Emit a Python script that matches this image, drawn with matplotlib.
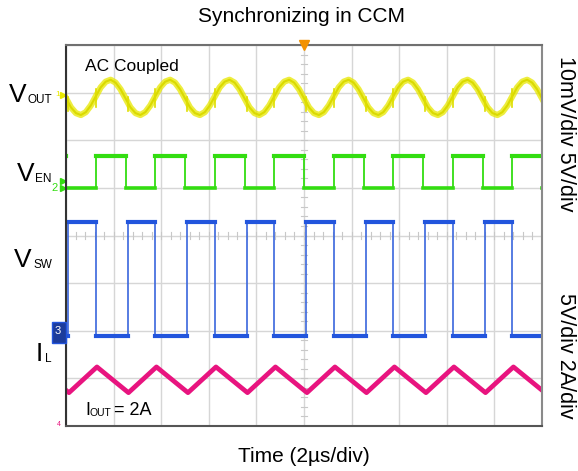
import matplotlib.pyplot as plt
import numpy as np
from matplotlib.patches import Rectangle

plt.rcParams['font.family'] = ['Liberation Sans', 'DejaVu Sans']

# scope screen: 10 x 8 divisions, 2us/div
t_div = 2.0
period = 2.5            # us (400 kHz sync)

# one switching period, phase = fraction of period, levels in divisions
vout_phase = [0.0, 0.083, 0.167, 0.25, 0.333, 0.417, 0.5, 0.583, 0.667, 0.75, 0.833, 0.917]
vout_dev = [-0.02, -0.21, -0.33, -0.37, -0.31, -0.17, 0.02, 0.21, 0.33, 0.37, 0.31, 0.17]
vout_center = 6.9

en_edges = [0.50, 1.00]          # rise, fall
en_low, en_high = 4.99, 5.67

sw_edges = [0.04, 0.50]          # rise, fall
sw_low, sw_high = 1.88, 4.28

il_phase = [0.05, 0.52]          # trough, peak
il_low, il_high = 0.70, 1.24

spike_phase = [0.04, 0.50]
spike_lo = [-0.18, -0.22]
spike_hi = [0.12, 0.16]

# channel labels: main letter, subscript, baseline (px from top)
ch_main = ['V', 'V', 'V', 'I']
ch_sub = ['OUT', 'EN', 'SW', 'L']
ch_base = [102, 181, 267, 361]

periods = np.arange(-1, 9)

t_vout, y_vout = [], []
t_en, y_en = [], []
t_sw, y_sw = [], []
t_il, y_il = [], []
for k in periods:
    for p, d in zip(vout_phase, vout_dev):
        t_vout.append((k + p) * period)
        y_vout.append(vout_center + d)
    r, f = (k + en_edges[0]) * period, (k + en_edges[1]) * period
    t_en += [r, r, f, f]
    y_en += [en_low, en_high, en_high, en_low]
    r, f = (k + sw_edges[0]) * period, (k + sw_edges[1]) * period
    t_sw += [r, r, f, f]
    y_sw += [sw_low, sw_high, sw_high, sw_low]
    t_il += [(k + il_phase[0]) * period, (k + il_phase[1]) * period]
    y_il += [il_low, il_high]

W, H = 578, 471
fig = plt.figure(figsize=(W / 100, H / 100), dpi=100)
ax = fig.add_axes([66 / W, 1 - 426 / H, 476 / W, 381 / H])
ax.set_xlim(0, 10 * t_div)
ax.set_ylim(0, 8)
ax.set_xticks(np.arange(0, 10 * t_div + 0.1, t_div))
ax.set_yticks(np.arange(0, 9, 1))
ax.set_axisbelow(True)
ax.grid(True, color='#d6d6d6', lw=1)
ax.tick_params(length=0, labelbottom=False, labelleft=False)
for side, c in [('left', '#333333'), ('bottom', '#555555'), ('top', '#707070'), ('right', '#8a8a8a')]:
    ax.spines[side].set_color(c)
    ax.spines[side].set_linewidth(1.5)

# minor ticks on the centre lines
for x in np.arange(0, 20.01, 0.4):
    ax.plot([x, x], [3.93, 4.07], color='#c8c8c8', lw=0.8, zorder=1)
for y in np.arange(0, 8.01, 0.2):
    ax.plot([9.88, 10.12], [y, y], color='#c8c8c8', lw=0.8, zorder=1)

# traces
ax.plot(t_vout, y_vout, color='#e8e800', lw=4.5, alpha=0.75, solid_joinstyle='round')
ax.plot(t_vout, y_vout, color='#dada00', lw=1.5)
for k in periods:
    for p, lo, hi in zip(spike_phase, spike_lo, spike_hi):
        tt = (k + p) * period
        yc = np.interp(tt, t_vout, y_vout)
        ax.plot([tt, tt], [yc + lo, yc + hi], color='#dede00', lw=1.2)

ax.plot(t_en, y_en, color='#33dd11', lw=1.3)
for k in periods:
    r, f = (k + en_edges[0]) * period, (k + en_edges[1]) * period
    ax.plot([r, f], [en_high, en_high], color='#33dd11', lw=3)
    ax.plot([f, r + period], [en_low, en_low], color='#33dd11', lw=2.6)

ax.plot(t_sw, y_sw, color='#3a66dd', lw=1.2)
for k in periods:
    r, f = (k + sw_edges[0]) * period, (k + sw_edges[1]) * period
    ax.plot([r, f], [sw_high, sw_high], color='#2255dd', lw=3)
    ax.plot([f, r + period], [sw_low, sw_low], color='#2255dd', lw=3)

ax.plot(t_il, y_il, color='#e8147f', lw=3.4)

# trigger marker and channel ground markers
ax.plot(10, 8, marker='v', ms=7, color='#f39200', clip_on=False, zorder=5)
ax.plot(-0.12, 6.95, marker='>', ms=5, color='#e8e800', clip_on=False)
ax.plot(-0.12, 5.15, marker='>', ms=5, color='#33dd11', clip_on=False)
ax.plot(-0.12, 4.99, marker='>', ms=5, color='#33dd11', clip_on=False)
fig.text(58 / W, 1 - 95 / H, '1', color='#e8e800', fontsize=6, ha='center', va='center')
fig.text(55 / W, 1 - 188 / H, '2', color='#33dd11', fontsize=8, ha='center', va='center')
fig.patches.append(Rectangle((52 / W, 1 - 343 / H), 14 / W, 21 / H,
                             transform=fig.transFigure, facecolor='#1c3c9c', edgecolor='#2255dd'))
fig.text(58 / W, 1 - 331 / H, '3', color='white', fontsize=8, ha='center', va='center')
fig.text(59 / W, 1 - 424 / H, '4', color='#e8147f', fontsize=5, ha='center', va='center')

# texts
fig.text(302 / W, 1 - 17 / H, 'Synchronizing in CCM', fontsize=15, ha='center', va='center')
fig.text(304 / W, 1 - 456 / H, 'Time (2µs/div)', fontsize=15, ha='center', va='center')
fig.text(85 / W, 1 - 71 / H, 'AC Coupled', fontsize=12.5, va='baseline')
fig.text(85 / W, 1 - 415 / H, 'I', fontsize=13, va='baseline')
fig.text(89 / W, 1 - 416 / H, 'OUT', fontsize=7.5, va='baseline')
fig.text(114 / W, 1 - 415 / H, '= 2A', fontsize=13, va='baseline')

for m, s, b in zip(ch_main, ch_sub, ch_base):
    fig.text(52 / W, 1 - (b + 1) / H, s, fontsize=8.5, ha='right', va='baseline')
    sub_w = {'OUT': 22, 'EN': 14, 'SW': 17, 'L': 6}[s]
    fig.text((49 - sub_w) / W, 1 - b / H, m, fontsize=19, ha='right', va='baseline')

fig.text(566 / W, 1 - 134 / H, '10mV/div 5V/div', fontsize=15.5, rotation=270, ha='center', va='center')
fig.text(566 / W, 1 - 356 / H, '5V/div 2A/div', fontsize=15.5, rotation=270, ha='center', va='center')

fig.savefig('out.png', dpi=100)
